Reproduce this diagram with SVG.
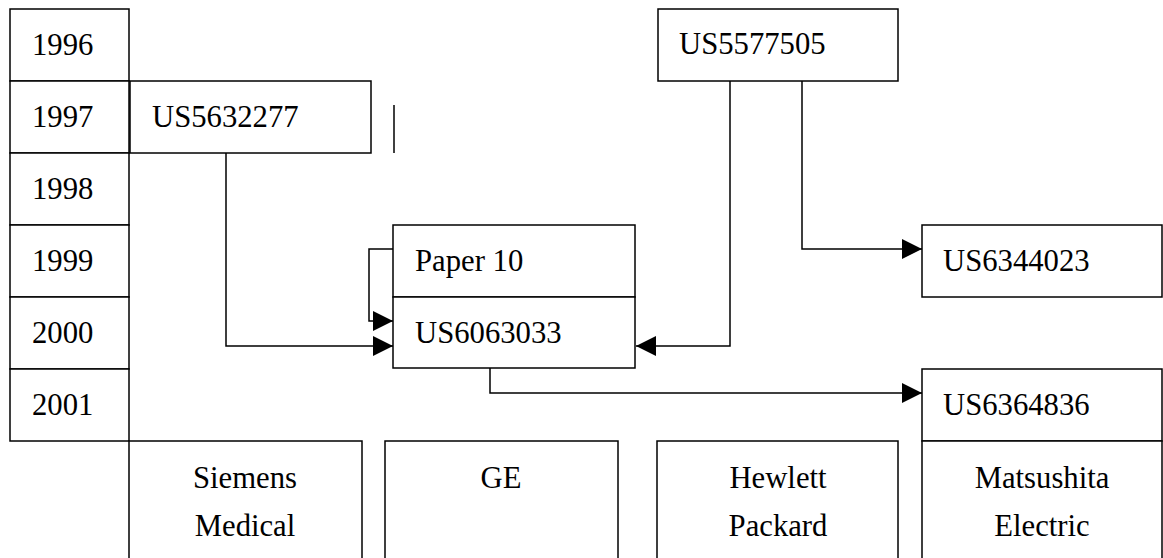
<svg xmlns="http://www.w3.org/2000/svg" width="1163" height="558" viewBox="0 0 1163 558">
<style>
.box{fill:#fff;stroke:#000;stroke-width:1.5}
.t{font-family:"Liberation Serif","Times New Roman",serif;font-size:30.7px;fill:#000}
.c{text-anchor:middle}
.ln{fill:none;stroke:#000;stroke-width:1.5}
</style>
<defs>
<marker id="arr" markerUnits="userSpaceOnUse" markerWidth="20" markerHeight="20" refX="20" refY="10" orient="auto" viewBox="0 0 20 20">
<path d="M0,0 L20,10 L0,20 z" fill="#000"/>
</marker>
</defs>
<g id="years">
<g id="y1996"><rect class="box" x="10" y="9" width="119" height="72"/><text class="t" x="32" y="55">1996</text></g>
<g id="y1997"><rect class="box" x="10" y="81" width="119" height="72"/><text class="t" x="32" y="127">1997</text></g>
<g id="y1998"><rect class="box" x="10" y="153" width="119" height="72"/><text class="t" x="32" y="199">1998</text></g>
<g id="y1999"><rect class="box" x="10" y="225" width="119" height="72"/><text class="t" x="32" y="271">1999</text></g>
<g id="y2000"><rect class="box" x="10" y="297" width="119" height="72"/><text class="t" x="32" y="343">2000</text></g>
<g id="y2001"><rect class="box" x="10" y="369" width="119" height="72"/><text class="t" x="32" y="415">2001</text></g>
</g>
<g id="US5632277"><rect class="box" x="130" y="81" width="241" height="72"/><text class="t" x="152" y="127">US5632277</text></g>
<g id="stray"><line class="ln" x1="394" y1="105" x2="394" y2="153"/></g>
<g id="US5577505"><rect class="box" x="658" y="9" width="240" height="72"/><text class="t" x="679" y="54">US5577505</text></g>
<g id="Paper10"><rect class="box" x="393" y="225" width="242" height="72"/><text class="t" x="415" y="271">Paper 10</text></g>
<g id="US6063033"><rect class="box" x="393" y="297" width="242" height="71"/><text class="t" x="415" y="343">US6063033</text></g>
<g id="US6344023"><rect class="box" x="922" y="225" width="240" height="72"/><text class="t" x="943" y="271">US6344023</text></g>
<g id="US6364836"><rect class="box" x="922" y="369" width="240" height="72"/><text class="t" x="943" y="415">US6364836</text></g>
<g id="siemens"><rect class="box" x="129" y="441" width="233" height="130"/><text class="t c" x="245" y="488">Siemens</text><text class="t c" x="245" y="536">Medical</text></g>
<g id="ge"><rect class="box" x="385" y="441" width="233" height="130"/><text class="t c" x="501" y="488">GE</text></g>
<g id="hp"><rect class="box" x="657" y="441" width="241" height="130"/><text class="t c" x="778" y="488">Hewlett</text><text class="t c" x="778" y="536">Packard</text></g>
<g id="matsushita"><rect class="box" x="922" y="441" width="240" height="130"/><text class="t c" x="1042" y="488">Matsushita</text><text class="t c" x="1042" y="536">Electric</text></g>
<g id="connectors">
<path class="ln" d="M226,153 V346 H393" marker-end="url(#arr)"/>
<path class="ln" d="M393,249 H369 V321 H393" marker-end="url(#arr)"/>
<path class="ln" d="M730,81 V346 H636" marker-end="url(#arr)"/>
<path class="ln" d="M802,81 V249 H922" marker-end="url(#arr)"/>
<path class="ln" d="M490,368 V393 H922" marker-end="url(#arr)"/>
</g>
</svg>
